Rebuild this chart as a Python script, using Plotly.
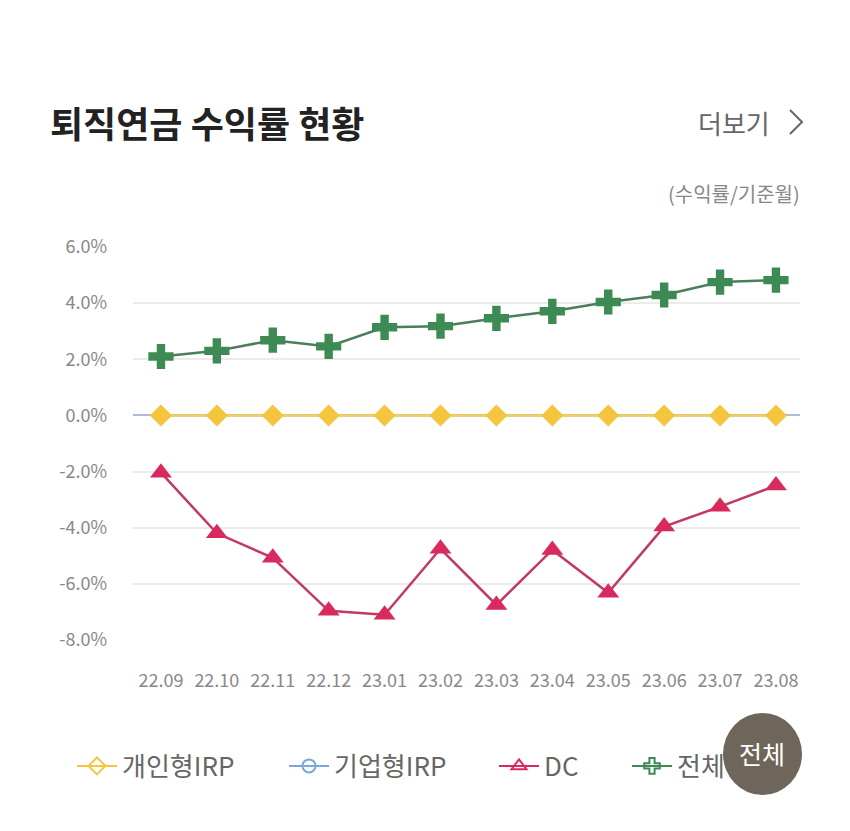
import plotly.graph_objects as go

months = ["22.09", "22.10", "22.11", "22.12", "23.01", "23.02", "23.03", "23.04", "23.05", "23.06", "23.07", "23.08"]
irp_personal = [0, 0, 0, 0, 0, 0, 0, 0, 0, 0, 0, 0]
irp_corporate = [0, 0, 0, 0, 0, 0, 0, 0, 0, 0, 0, 0]
dc = [-2.04, -4.2, -5.07, -6.96, -7.1, -4.75, -6.75, -4.79, -6.32, -3.96, -3.25, -2.5]
total = [2.1, 2.3, 2.68, 2.46, 3.14, 3.18, 3.46, 3.71, 4.04, 4.29, 4.75, 4.82]
y_ticks = [6, 4, 2, 0, -2, -4, -6, -8]
y_labels = ["6.0%", "4.0%", "2.0%", "0.0%", "-2.0%", "-4.0%", "-6.0%", "-8.0%"]

FONT = "Noto Sans CJK KR"
OFF = 8  # page body margin
W, H = 842, 823
# plot area in page pixel coordinates
L, R, T, B = 133, 800, 247, 640


def px(x):
    return (x - L) / (R - L)


def py(y):
    return (B - y) / (B - T)


YEL, BLU, RED, GRN = "#f5c53d", "#7ba6dc", "#d92a5e", "#3e8a55"

fig = go.Figure()
fig.add_trace(go.Scatter(x=months, y=irp_corporate, mode="lines", line=dict(color=BLU, width=2),
                         showlegend=False, hoverinfo="skip"))
fig.add_trace(go.Scatter(x=months, y=irp_personal, mode="lines+markers", line=dict(color="#f3cf5e", width=2.5),
                         marker=dict(symbol="diamond", size=17, color=YEL), showlegend=False))
fig.add_trace(go.Scatter(x=months, y=dc, mode="lines+markers", line=dict(color="#c23a63", width=2.5),
                         marker=dict(symbol="triangle-up", size=19, color=RED), showlegend=False))
fig.add_trace(go.Scatter(x=months, y=total, mode="lines+markers", line=dict(color="#4b7d5c", width=2.5),
                         marker=dict(symbol="cross", size=21, color=GRN), showlegend=False))

# legend entries (open symbols as in the reference legend), one legend per item
legend_items = [("개인형IRP", YEL, "diamond-open", "legend", 72),
                ("기업형IRP", BLU, "circle-open", "legend2", 284),
                ("DC", RED, "triangle-up-open", "legend3", 494),
                ("전체", GRN, "cross-open", "legend4", 627)]
legend_layout = {}
for name, col, sym, lg, lx in legend_items:
    fig.add_trace(go.Scatter(x=[None], y=[None], mode="lines+markers", name=name, legend=lg,
                             line=dict(color=col, width=2),
                             marker=dict(symbol=sym, size=13, color=col, line=dict(width=2, color=col))))
    legend_layout[lg] = dict(orientation="h", x=px(lx), xanchor="left", y=py(766), yanchor="middle",
                             font=dict(size=26, color="#666", family=FONT), itemwidth=40,
                             bgcolor="rgba(0,0,0,0)")

fig.update_layout(
    width=W, height=H,
    margin=dict(l=L - OFF, r=W - (R - OFF), t=T - OFF, b=H - (B - OFF)),
    paper_bgcolor="white", plot_bgcolor="white",
    font=dict(family=FONT, color="#777"),
    xaxis=dict(type="category", range=[-0.5, 11.43], showgrid=False, showline=False, zeroline=False,
               ticks="", tickfont=dict(size=18, color="#888"), ticklabelstandoff=28),
    yaxis=dict(range=[-8, 6], tickvals=y_ticks, ticktext=y_labels, showgrid=True, gridcolor="#ebebeb",
               gridwidth=1.5, zeroline=True, zerolinecolor="#aebbd6", zerolinewidth=1.5, showline=False,
               ticks="", tickfont=dict(size=18, color="#888"), ticklabelstandoff=25),
    showlegend=True,
    **legend_layout,
)

fig.add_annotation(text="<b>퇴직연금 수익률 현황</b>", xref="paper", yref="paper", x=px(48), y=py(122),
                   xanchor="left", yanchor="middle", showarrow=False, font=dict(size=36, color="#222", family=FONT))
fig.add_annotation(text="더보기", xref="paper", yref="paper", x=px(772), y=py(122),
                   xanchor="right", yanchor="middle", showarrow=False, font=dict(size=26, color="#666", family=FONT))
fig.add_shape(type="path", xref="paper", yref="paper",
              path=f"M {px(790)},{py(110)} L {px(802)},{py(122)} L {px(790)},{py(134)}",
              line=dict(color="#666", width=2))
fig.add_annotation(text="(수익률/기준월)", xref="paper", yref="paper", x=px(802), y=py(193),
                   xanchor="right", yanchor="middle", showarrow=False, font=dict(size=20, color="#888", family=FONT))

# floating "전체" bubble
fig.add_shape(type="circle", xref="paper", yref="paper", x0=px(723), x1=px(802), y0=py(713), y1=py(795),
              fillcolor="#6e665b", line=dict(width=0), layer="above")
fig.add_annotation(text="전체", xref="paper", yref="paper", x=px(762), y=py(753),
                   xanchor="center", yanchor="middle", showarrow=False, font=dict(size=25, color="white", family=FONT))

fig.write_html("out.html")
